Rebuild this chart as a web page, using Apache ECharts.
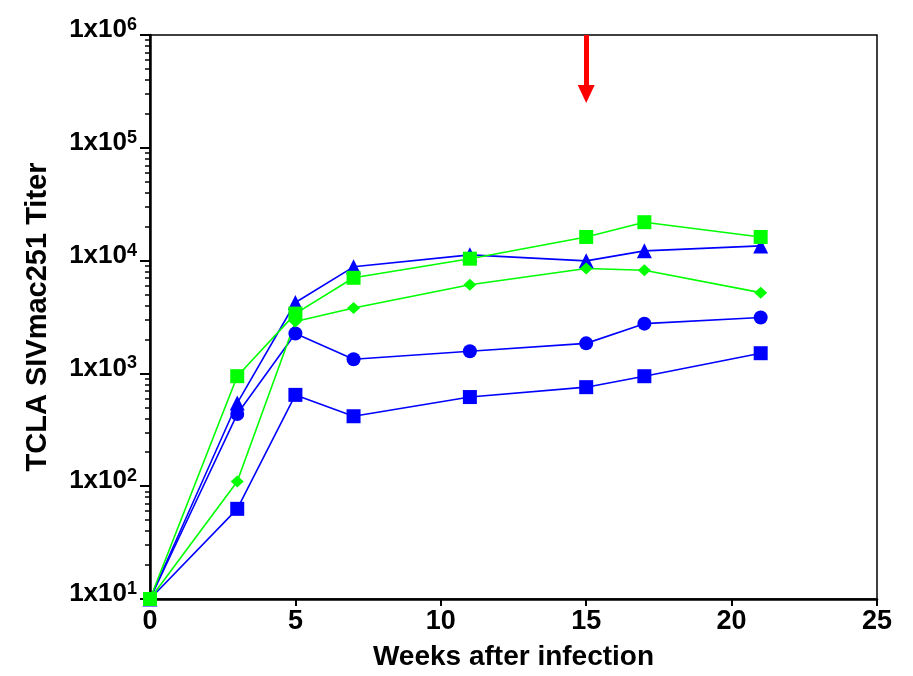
<!DOCTYPE html>
<html>
<head>
<meta charset="utf-8">
<script src="https://cdn.jsdelivr.net/npm/echarts@6/dist/echarts.min.js"></script>
<style>
html, body { margin: 0; padding: 0; background: #fff; }
#main { width: 913px; height: 676px; }
</style>
</head>
<body>
<div id="main"></div>
<script>
// weeks after infection
var weeks = [0, 3, 5, 7, 11, 15, 17, 21];
// TCLA titers per animal
var blueSquare   = [10, 63, 645, 417, 617, 755, 944, 1510];
var blueCircle   = [10, 436, 2260, 1333, 1570, 1846, 2760, 3130];
var blueTriangle = [10, 546, 4250, 8810, 11250, 9950, 12200, 13500];
var greenDiamond = [10, 110, 2880, 3800, 6110, 8500, 8200, 5200];
var greenSquare  = [10, 945, 3390, 7040, 10400, 16200, 21900, 16200];
// y ticks
var yMajor = [10, 100, 1000, 10000, 100000, 1000000];
var yMinor = [];
yMajor.slice(0, -1).forEach(function(d){
	for (var k = 2; k <= 9; k++) { yMinor.push(d * k); }
});
// arrow (treatment time)
var arrowWeek = 15;
var arrowFrom = 1000000;
var arrowTo = 300000;

var BLUE = '#0000ff';
var GREEN = '#00ff00';
var FONT = '"Liberation Sans", Arial, Helvetica, sans-serif';

function pairs(ys){
	return weeks.map(function(w, i){ return [w, ys[i]]; });
}

function mkSeries(name, ys, color, symbol, size){
	return {
		name: name,
		type: 'line',
		data: pairs(ys),
		symbol: symbol,
		symbolSize: size,
		clip: false,
		lineStyle: { color: color, width: 1.6 },
		itemStyle: { color: color },
		emphasis: { disabled: true },
		animation: false
	};
}

var myChart = echarts.init(document.getElementById('main'));
var series = [
	mkSeries('bs', blueSquare, BLUE, 'rect', 14),
	mkSeries('bc', blueCircle, BLUE, 'circle', 14),
	mkSeries('bt', blueTriangle, BLUE, 'triangle', 15),
	mkSeries('gd', greenDiamond, GREEN, 'diamond', [13, 12]),
	mkSeries('gs', greenSquare, GREEN, 'rect', 14)
];
series[0].markLine = {
	silent: true,
	symbol: ['none', 'triangle'],
	symbolSize: [17, 18],
	label: { show: false },
	lineStyle: { color: '#ff0000', width: 5, type: 'solid' },
	data: [[{ coord: [arrowWeek, arrowFrom] }, { coord: [arrowWeek, arrowTo] }]]
};

var option = {
	backgroundColor: '#fff',
	animation: false,
	grid: {
		left: 150, top: 35, right: 36, bottom: 74,
		show: true, borderColor: '#000', borderWidth: 1.5, backgroundColor: 'transparent'
	},
	xAxis: {
		type: 'value',
		min: 0, max: 25, interval: 5,
		name: 'Weeks after infection',
		nameLocation: 'middle',
		nameGap: 44,
		nameTextStyle: { fontFamily: FONT, fontWeight: 'bold', fontSize: 28, color: '#000' },
		axisLine: { onZero: false, lineStyle: { color: '#000', width: 2.5 } },
		axisTick: { inside: false, length: 7, lineStyle: { color: '#000', width: 2 } },
		axisLabel: { fontFamily: FONT, fontWeight: 'bold', fontSize: 27, color: '#000', margin: 9 },
		splitLine: { show: false }
	},
	yAxis: [{
		type: 'log',
		logBase: 10,
		min: 10, max: 1000000,
		name: 'TCLA SIVmac251 Titer',
		nameLocation: 'middle',
		nameRotate: 90,
		nameGap: 98,
		nameTextStyle: { fontFamily: FONT, fontWeight: 'bold', fontSize: 29, color: '#000' },
		axisLine: { lineStyle: { color: '#000', width: 2.5 } },
		axisTick: { customValues: yMajor, length: 10, lineStyle: { color: '#000', width: 2 } },
		axisLabel: {
			customValues: yMajor,
			margin: 13,
			verticalAlign: 'middle',
			padding: [0, 0, 10, 0],
			formatter: function(v){
				return '{m|1x10}{s|' + Math.round(Math.log10(v)) + '}';
			},
			rich: {
				m: { fontFamily: FONT, fontWeight: 'bold', fontSize: 26, color: '#000', lineHeight: 28 },
				s: { fontFamily: FONT, fontWeight: 'bold', fontSize: 18, color: '#000', verticalAlign: 'top', lineHeight: 28, padding: [0, 0, 16, 0] }
			}
		},
		splitLine: { show: false }
	}, {
		type: 'log',
		logBase: 10,
		min: 10, max: 1000000,
		position: 'left',
		axisLine: { show: false },
		axisTick: { customValues: yMinor, length: 5, lineStyle: { color: '#000', width: 1.5 } },
		axisLabel: { show: false },
		splitLine: { show: false }
	}],
	series: series
};
myChart.setOption(option);
</script>
</body>
</html>
